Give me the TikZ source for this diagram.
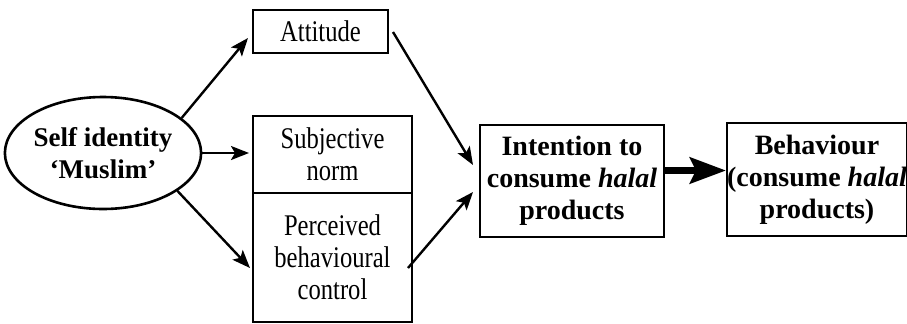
\documentclass[tikz,border=0pt]{standalone}
\usepackage{fontspec}
\setmainfont{Liberation Serif}
\newfontfamily\lightfont[FakeStretch=0.82]{Liberation Serif}
\usetikzlibrary{shapes.geometric,arrows.meta,calc}
\begin{document}
\begin{tikzpicture}[x=0.5pt,y=-0.5pt,
  boxnode/.style={draw,line width=1.3pt,inner sep=0pt,align=center},
  lightnode/.style={boxnode,font=\lightfont\fontsize{15}{16}\selectfont},
  boldnode/.style={boxnode,font=\fontsize{14}{16}\selectfont\bfseries},
  arr/.style={line width=1.2pt,-{Stealth[length=9pt,width=7pt,inset=2pt]}},
  bigarr/.style={line width=3.5pt,-{Stealth[length=18pt,width=13pt,inset=3pt]}}]
\useasboundingbox (0,0) rectangle (907,323);
\node[draw,ellipse,line width=1.3pt,minimum width=96pt,minimum height=56pt,inner sep=0pt,align=center,font=\fontsize{13.5}{16}\selectfont\bfseries] (ell) at (103,153) {Self identity\\`Muslim'};
\node[lightnode,minimum width=67.5pt,minimum height=21.5pt] (att) at (320.5,31.5) {Attitude};
\node[lightnode,minimum width=79.5pt,minimum height=38.5pt] (sub) at (332.5,154.5) {Subjective\\norm};
\node[lightnode,minimum width=79.5pt,minimum height=64.5pt] (pbc) at (332.5,257.5) {Perceived\\behavioural\\control};
\node[boldnode,minimum width=92pt,minimum height=56pt] (int) at (572,181) {Intention to\\consume \textit{halal}\\products};
\node[boldnode,minimum width=88pt,minimum height=56.5pt] (beh) at (817,179.5) {Behaviour\\(consume \textit{halal}\\products)};
\coordinate (attin) at (248,38);
\coordinate (subin) at (249,153);
\coordinate (pbcin) at (250,268);
\coordinate (attout) at (393,32);
\coordinate (pbcout) at (408,268);
\coordinate (intin1) at (473,165);
\coordinate (intin2) at (473,192);
\coordinate (bigs) at (664,170.5);
\coordinate (bige) at (726,170.5);
\draw[arr] (ell.24.5) -- (attin);
\draw[arr] (ell.east) -- (subin);
\draw[arr] (ell.-27) -- (pbcin);
\draw[arr] (attout) -- (intin1);
\draw[arr] (pbcout) -- (intin2);
\draw[bigarr] (bigs) -- (bige);
\end{tikzpicture}
\end{document}
